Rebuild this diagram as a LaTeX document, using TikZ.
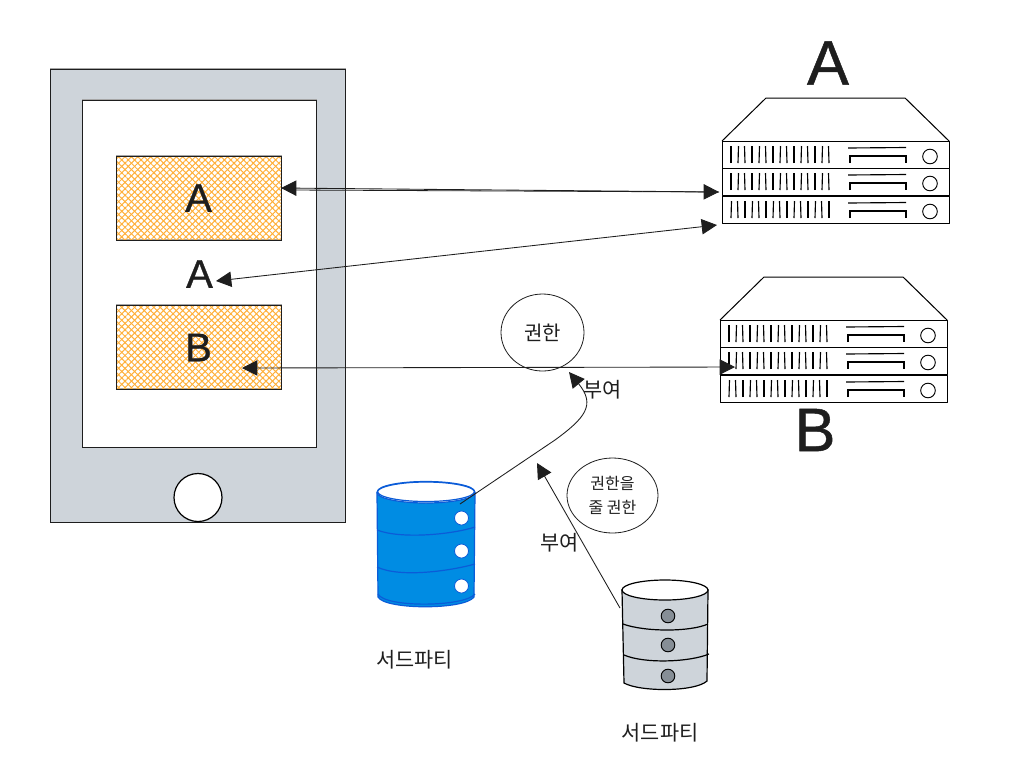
\documentclass[tikz,border=0pt]{standalone}
\usepackage{fontspec}
\setmainfont{Liberation Sans}
\newfontfamily\krfont{Noto Sans CJK KR}
\newfontfamily\heavyfont[FakeBold=0.8]{Liberation Sans}
\usetikzlibrary{arrows.meta,patterns.meta,shapes.geometric}
\definecolor{inkDark}{HTML}{1E1E1E}
\definecolor{phoneGrey}{HTML}{CED4DA}
\definecolor{dotGrey}{HTML}{868E96}
\definecolor{hatchOrange}{HTML}{FFB03A}
\definecolor{dbBlue}{HTML}{008CE3}
\definecolor{dbEdge}{HTML}{0B5CD8}
\def\px{0.75pt}

\begin{document}
\begin{tikzpicture}[
      x=0.75pt, y=-0.75pt,
      rough/.style={
        draw=inkDark, line width=0.65pt,
        preaction={draw=black!35, line width=0.7pt, transform canvas={shift={(0.5pt,0.5pt)}}}
      },
      hatchbox/.style={
        rectangle, rough, minimum width=165*\px, minimum height=84*\px, inner sep=0pt,
        preaction={pattern={Lines[angle=45,distance=3.4pt,line width=0.75pt]}, pattern color=hatchOrange},
        preaction={pattern={Lines[angle=-45,distance=3.4pt,line width=0.75pt]}, pattern color=hatchOrange},
        text=inkDark, font=\heavyfont\fontsize{30pt}{32pt}\selectfont
      },
      biglabel/.style={text=inkDark, inner sep=0pt},
      krlabel/.style={text=inkDark, inner sep=0pt, align=center, font=\krfont\fontsize{15.6pt}{20pt}\selectfont},
      bubble/.style={ellipse, draw=inkDark, line width=0.6pt, inner sep=0pt, align=center, text=inkDark},
      arrow/.style={-{Triangle[length=11.5pt,width=11.5pt]}, draw=inkDark, line width=0.65pt},
      twoway/.style={{Triangle[length=11.5pt,width=11.5pt]}-{Triangle[length=11.5pt,width=11.5pt]}, draw=inkDark, line width=0.65pt},
      rackline/.style={draw=black, line width=0.75pt, line join=round,
        preaction={draw=black!35, line width=0.7pt, transform canvas={shift={(0.4pt,-0.4pt)}}}},
      blueline/.style={draw=dbEdge, line width=0.9pt},
      greyline/.style={draw=black, line width=0.9pt},
      serverrack/.pic={
        \draw[rackline, fill=white] (0,43) -- (44,0) -- (183,0) -- (227,43);
        \foreach \r in {43,70,98} {
          \draw[rackline, fill=white] (0,\r) rectangle (227,\r+27);
          \foreach \i in {0,...,14} {
            \pgfmathsetmacro{\lean}{0.5*(mod(\i*7+\r,3)-1)}
            \draw[black, line width=0.85pt] (9+\i*7,\r+22) -- (9+\i*7+\lean,\r+5);
          }
          \draw[black, line width=0.85pt] (126,\r+7) -- (184,\r+6.5);
          \draw[black, line width=0.85pt] (128,\r+22) |- (184,\r+15) -- (184,\r+22);
          \draw[black, line width=0.7pt, fill=white] (208,\r+15.5) circle (7.3);
        }
      }
    ]
      \useasboundingbox (0,0) rectangle (1025,769);

      % phone
      \node[rectangle, rough, fill=phoneGrey, minimum width=295*\px, minimum height=453*\px] (phone) at (197.5,295.5) {};
      \node[rectangle, rough, fill=white, minimum width=234*\px, minimum height=347*\px] (screen) at (199,273.5) {};
      \node[circle, draw=black, line width=0.9pt, fill=white, minimum size=48*\px, inner sep=0pt] (homeBtn) at (198,497.5) {};
      \node[hatchbox] (boxA) at (198.5,198) {A};
      \node[hatchbox] (boxB) at (198.5,347.5) {B};
      \node[biglabel, font=\heavyfont\fontsize{30pt}{32pt}\selectfont] (labelA) at (199.5,274) {A};
      \coordinate (labelAin) at (216,281);
      \coordinate (boxAin) at (281,188);
      \coordinate (boxBin) at (242,368);

      % servers
      \pic at (722,98) {serverrack};
      \pic at (720,277) {serverrack};
      \node[biglabel, font=\heavyfont\fontsize{47pt}{50pt}\selectfont] (titleA) at (828,63) {A};
      \node[biglabel, font=\heavyfont\fontsize{46pt}{50pt}\selectfont] (titleB) at (815,430) {B};
      \coordinate (srvAtop) at (719,192);
      \coordinate (srvAlow) at (717,225);
      \coordinate (srvBmid) at (735,367);

      % bubbles
      \node[bubble, minimum width=83*\px, minimum height=77*\px, font=\krfont\fontsize{15pt}{18pt}\selectfont] (grant) at (542.5,332.5) {권한};
      \node[bubble, minimum width=91*\px, minimum height=75*\px, font=\krfont\fontsize{12pt}{18pt}\selectfont] (grantRight) at (612.5,495.5) {권한을\\줄 권한};

      % blue db
      \draw[blueline, fill=dbBlue] (377,493) -- (378,597) .. controls (385,610) and (465,610) .. (474,597) -- (475,493) -- cycle;
      \draw[blueline, fill=white] (426,492.5) ellipse (49 and 10.5);
      \draw[blueline] (426,491.5) ellipse (48.5 and 10);
      \draw[blueline] (378,594) .. controls (385,608) and (465,607) .. (475,594);
      \draw[blueline] (377,530) .. controls (400,539) and (450,535) .. (475,527);
      \draw[blueline] (377,567) .. controls (400,578) and (450,571) .. (475,564);
      \foreach \y in {518,551,586} {
        \draw[draw=dbEdge, line width=0.6pt, fill=white] (461.5,\y) circle (7);
      }
      \coordinate (blueOut) at (460,504);

      % grey db
      \draw[greyline, fill=phoneGrey] (622,590) -- (624,683) .. controls (640,692) and (695,692) .. (707,681) -- (708,590) -- cycle;
      \draw[greyline, fill=white] (665,590) ellipse (43 and 10);
      \draw[greyline] (623,624) .. controls (645,632) and (690,632) .. (708,624);
      \draw[greyline] (624,655) .. controls (645,664) and (690,662) .. (709,654);
      \foreach \y in {616,645,676} {
        \draw[draw=black, line width=0.7pt, fill=dotGrey] (668,\y) circle (6.8);
      }
      \coordinate (greyOut) at (620,608);

      % labels
      \node[krlabel] (thirdBlue) at (414.5,660) {서드파티};
      \node[krlabel] (thirdGrey) at (660,733) {서드파티};
      \node[krlabel] (giveTop) at (602.5,390) {부여};
      \node[krlabel] (giveLow) at (559.5,543) {부여};
      \coordinate (giveTipTop) at (569,372);
      \coordinate (giveTipLow) at (537,463);

      % connectors
      \draw[twoway] (boxAin) -- (srvAtop);
      \draw[draw=inkDark, line width=0.6pt] (boxAin) ++(9,2) -- (srvAtop);
      \draw[twoway] (labelAin) -- (srvAlow);
      \draw[twoway] (boxBin) -- (srvBmid);
      \draw[arrow] (blueOut) -- (555,440) .. controls (585,418) and (596,405) .. (giveTipTop);
      \draw[arrow] (greyOut) -- (giveTipLow);
    \end{tikzpicture}
\end{document}
